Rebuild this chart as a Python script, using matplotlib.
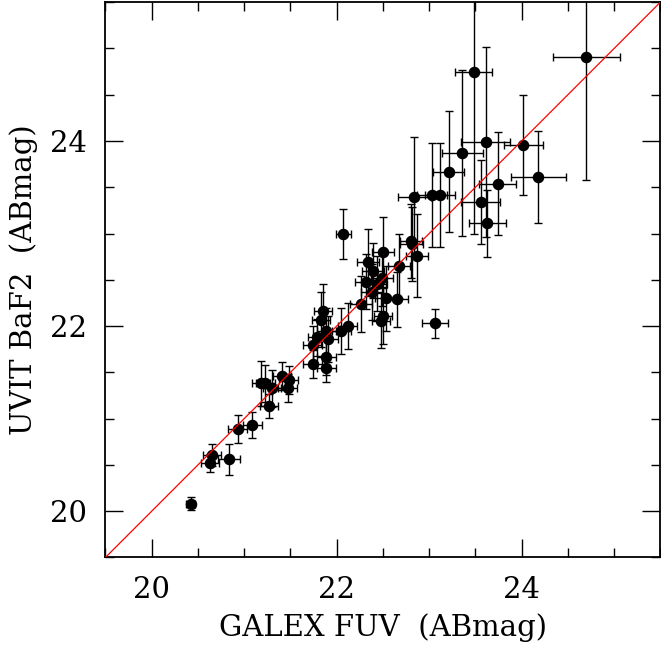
import numpy as np
import matplotlib
matplotlib.use('Agg')
import matplotlib.pyplot as plt
from matplotlib.ticker import MultipleLocator

plt.rcParams['font.family'] = 'DejaVu Serif'

# GALEX FUV vs UVIT BaF2 magnitudes
galex_fuv = [20.42, 20.65, 20.63, 20.84, 20.93, 21.09, 21.18, 21.23, 21.30, 21.41,
             21.48, 21.47, 21.27, 21.74, 21.79, 21.85, 21.83, 21.89, 21.91, 21.89,
             21.74, 21.89, 22.05, 22.12, 22.07, 22.26, 22.32, 22.38, 22.34, 22.39,
             22.49, 22.44, 22.50, 22.53, 22.65, 22.67, 22.50, 22.48, 22.80, 22.81,
             22.87, 23.06, 22.84, 23.03, 23.12, 23.21, 23.36, 23.48, 23.61, 23.56,
             23.63, 23.74, 24.02, 24.18, 24.70]
galex_err = [0.05, 0.10, 0.10, 0.12, 0.10, 0.10, 0.10, 0.10, 0.10, 0.10,
             0.10, 0.10, 0.10, 0.10, 0.10, 0.10, 0.10, 0.10, 0.10, 0.10,
             0.10, 0.10, 0.10, 0.10, 0.08, 0.12, 0.12, 0.12, 0.12, 0.12,
             0.12, 0.10, 0.12, 0.12, 0.12, 0.12, 0.10, 0.10, 0.12, 0.12,
             0.12, 0.14, 0.18, 0.16, 0.16, 0.165, 0.22, 0.205, 0.26, 0.21,
             0.20, 0.20, 0.21, 0.30, 0.36]
uvit_baf2 = [20.08, 20.61, 20.52, 20.56, 20.89, 20.93, 21.38, 21.38, 21.33, 21.46,
             21.42, 21.33, 21.14, 21.80, 21.88, 22.16, 22.07, 21.95, 21.86, 21.67,
             21.59, 21.55, 21.95, 22.00, 23.00, 22.24, 22.48, 22.37, 22.69, 22.60,
             22.52, 22.46, 22.80, 22.30, 22.29, 22.65, 22.11, 22.06, 22.92, 22.89,
             22.76, 22.03, 23.40, 23.42, 23.42, 23.67, 23.87, 24.75, 23.99, 23.34,
             23.11, 23.54, 23.96, 23.61, 24.91]
uvit_err = [0.07, 0.12, 0.10, 0.17, 0.15, 0.14, 0.24, 0.20, 0.20, 0.15,
            0.15, 0.15, 0.13, 0.20, 0.20, 0.30, 0.30, 0.25, 0.25, 0.20,
            0.15, 0.15, 0.25, 0.25, 0.27, 0.30, 0.30, 0.30, 0.36, 0.30,
            0.30, 0.30, 0.38, 0.35, 0.30, 0.35, 0.30, 0.30, 0.40, 0.40,
            0.45, 0.16, 0.64, 0.56, 0.56, 0.65, 0.90, 1.75, 1.03, 0.45,
            0.36, 0.56, 0.54, 0.50, 1.33]

fig = plt.figure(figsize=(6.61, 6.48), dpi=100)
ax = fig.add_axes([0.1595, 0.1397, 0.8395, 0.8569])

ax.errorbar(galex_fuv, uvit_baf2, xerr=galex_err, yerr=uvit_err, fmt='o',
            color='black', markersize=7.3, ecolor='black', elinewidth=1.0,
            capsize=3, capthick=1.0, zorder=3)

line = np.array([19.5, 25.5])
ax.plot(line, line, color='red', linewidth=0.9, zorder=4)

ax.set_xlim(19.5, 25.5)
ax.set_ylim(19.5, 25.5)
ax.xaxis.set_major_locator(MultipleLocator(2))
ax.xaxis.set_minor_locator(MultipleLocator(0.5))
ax.yaxis.set_major_locator(MultipleLocator(2))
ax.yaxis.set_minor_locator(MultipleLocator(0.5))
ax.tick_params(which='both', direction='in', top=True, right=True, width=1.0)
ax.tick_params(which='major', length=13, labelsize=21, pad=13)
ax.tick_params(which='minor', length=6.5)
for sp in ax.spines.values():
    sp.set_linewidth(1.3)

ax.set_xlabel('GALEX FUV  (ABmag)', fontsize=21, labelpad=7)
ax.set_ylabel('UVIT BaF2  (ABmag)', fontsize=21, labelpad=9)

plt.savefig('out.png', dpi=100)
